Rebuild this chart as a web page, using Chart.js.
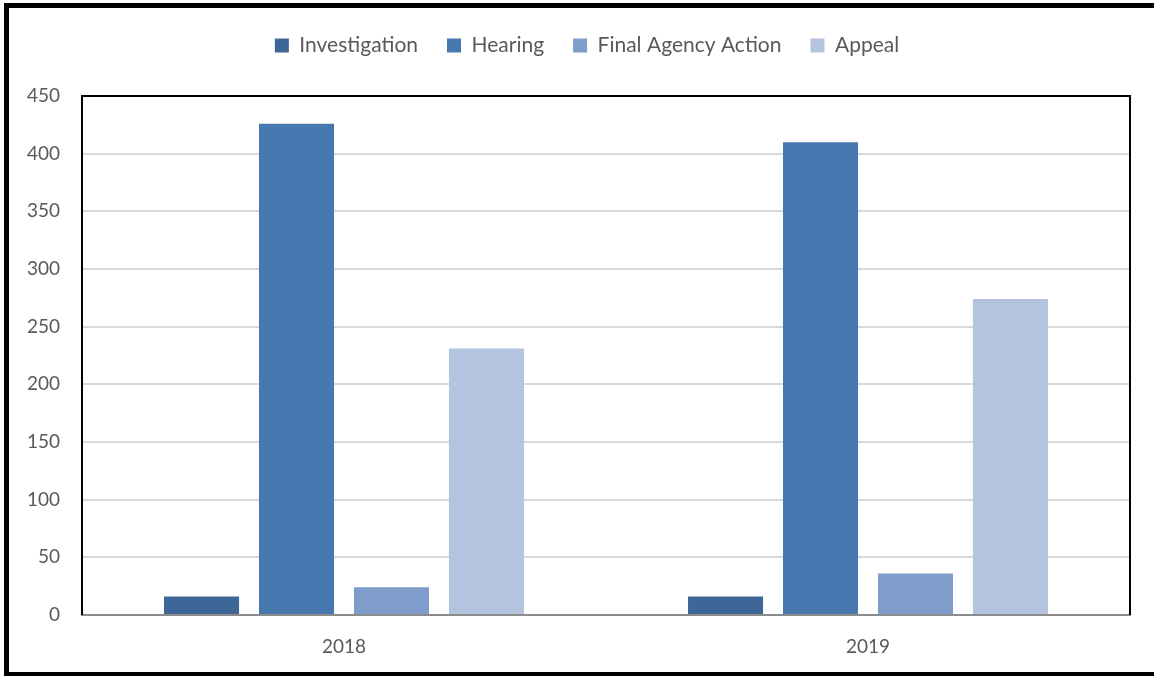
<!DOCTYPE html>
<html>
<head>
<meta charset="utf-8">
<script src="https://cdn.jsdelivr.net/npm/chart.js@4"></script>
<style>
  html, body { margin: 0; padding: 0; background: #fff; }
  #wrap { width: 1154px; height: 676px; position: relative; }
</style>
</head>
<body>
<div id="wrap"><canvas id="chart"></canvas></div>
<script>
const years = ['2018', '2019'];
const investigation = [16, 16];
const hearing = [426, 410];
const finalAgencyAction = [24, 36];
const appeal = [231, 274];
const yTicks = [0, 50, 100, 150, 200, 250, 300, 350, 400, 450];

const textColor = '#595959';
const fontFamily = 'Lato, "Open Sans", sans-serif';

// page frame, plot border and fixed legend height/offset
const framePlugin = {
    id: 'frame',
    beforeLayout(chart) {
        const lg = chart.legend;
        if (lg && !lg._patched) {
            const fit = lg.fit;
            lg.fit = function () {
                fit.call(this);
                this.height = 90;
            };
            lg._patched = true;
        }
    },
    afterLayout(chart) {
        if (chart.legend) chart.legend.left += 44;
    },
    beforeDraw(chart) {
        const ctx = chart.ctx;
        ctx.save();
        ctx.fillStyle = '#fff';
        ctx.fillRect(0, 0, chart.width, chart.height);
        ctx.restore();
    },
    afterDraw(chart) {
        const ctx = chart.ctx;
        const a = chart.chartArea;
        ctx.save();
        ctx.strokeStyle = '#000';
        ctx.lineWidth = 2;
        ctx.beginPath();
        ctx.moveTo(a.left, a.bottom);
        ctx.lineTo(a.left, a.top);
        ctx.lineTo(a.right, a.top);
        ctx.lineTo(a.right, a.bottom);
        ctx.stroke();
        ctx.fillStyle = '#000';
        ctx.fillRect(4, 3, 5, 673);
        ctx.fillRect(4, 3, chart.width, 5);
        ctx.fillRect(4, 672, chart.width, 4);
        ctx.restore();
    }
};

new Chart(document.getElementById('chart'), {
    type: 'bar',
    data: {
        labels: years,
        datasets: [
            { label: 'Investigation', data: investigation, backgroundColor: '#3e6696' },
            { label: 'Hearing', data: hearing, backgroundColor: '#4878b0' },
            { label: 'Final Agency Action', data: finalAgencyAction, backgroundColor: '#7e9dca' },
            { label: 'Appeal', data: appeal, backgroundColor: '#b4c4df' }
        ]
    },
    options: {
        responsive: true,
        maintainAspectRatio: false,
        animation: false,
        devicePixelRatio: 1,
        layout: { padding: { top: 6, left: 0, right: 24, bottom: 0 } },
        datasets: {
            bar: { categoryPercentage: 0.725, barPercentage: 0.79 }
        },
        plugins: {
            legend: {
                position: 'top',
                labels: {
                    boxWidth: 14,
                    boxHeight: 14,
                    padding: 29,
                    color: textColor,
                    font: { family: fontFamily, size: 21 }
                }
            },
            tooltip: { enabled: false }
        },
        scales: {
            x: {
                grid: { display: false, drawTicks: false },
                border: { display: true, color: '#8c8c8c', width: 2 },
                ticks: { color: textColor, padding: 20, font: { family: fontFamily, size: 19 } },
                afterFit(scale) { scale.height = 61; }
            },
            y: {
                min: 0,
                max: 450,
                afterBuildTicks(scale) { scale.ticks = yTicks.map(v => ({ value: v })); },
                grid: { color: '#d9d9d9', lineWidth: 2, drawTicks: false },
                border: { display: false },
                ticks: { color: textColor, padding: 22, font: { family: fontFamily, size: 19 } },
                afterFit(scale) { scale.width = 82; }
            }
        }
    },
    plugins: [framePlugin]
});
</script>
</body>
</html>
